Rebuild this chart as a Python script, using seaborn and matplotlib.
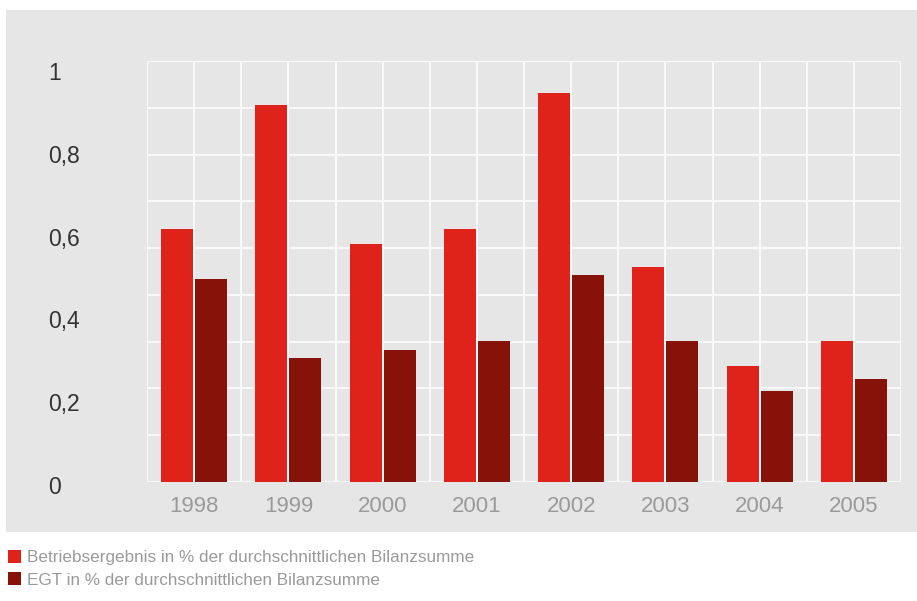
import matplotlib
matplotlib.use("Agg")
import matplotlib.pyplot as plt
import matplotlib.transforms as mtransforms
from matplotlib.patches import Rectangle, Patch
from matplotlib.ticker import FixedLocator
import numpy as np
import pandas as pd
import seaborn as sns

# Data: operating result and EGT as % of average total assets
years = ["1998", "1999", "2000", "2001", "2002", "2003", "2004", "2005"]
betriebsergebnis = [0.61, 0.91, 0.575, 0.61, 0.94, 0.52, 0.28, 0.34]
egt = [0.49, 0.30, 0.32, 0.34, 0.50, 0.34, 0.22, 0.25]
series_names = ["Betriebsergebnis in % der durchschnittlichen Bilanzsumme",
                "EGT in % der durchschnittlichen Bilanzsumme"]
y_ticks = [0, 0.2, 0.4, 0.6, 0.8, 1.0]
y_ticklabels = ["0", "0,2", "0,4", "0,6", "0,8", "1"]

RED = "#E0231A"
DARK = "#87120A"
PANEL = "#E6E6E6"

df = pd.DataFrame({
    "Jahr": years * 2,
    "Serie": [series_names[0]] * len(years) + [series_names[1]] * len(years),
    "Wert": betriebsergebnis + egt,
})

sns.set_theme(style="white")
plt.rcParams["font.family"] = ["Liberation Sans", "DejaVu Sans"]

fig = plt.figure(figsize=(9.17, 6.01), dpi=100)
fig.patch.set_facecolor("white")

# grey panel behind the chart
fig.patches.append(Rectangle((6 / 917, 1 - 532 / 601), 1 - 6 / 917, (532 - 10) / 601,
                             transform=fig.transFigure, facecolor=PANEL,
                             edgecolor="none", zorder=-5))

ax = fig.add_axes([147 / 917, 1 - 482 / 601, (901 - 147) / 917, (482 - 61) / 601])
ax.set_zorder(1)
ax.set_facecolor(PANEL)

sns.barplot(data=df, x="Jahr", y="Wert", hue="Serie", palette=[RED, DARK],
            width=0.72, gap=0.06, ax=ax, legend=False, saturation=1,
            linewidth=0, zorder=3)

ytop = 1.017
ax.set_xlim(-0.5, len(years) - 0.5)
ax.set_ylim(0, ytop)

# white cell grid: 16 columns x 9 rows
ax.xaxis.remove_overlapping_locs = False
ax.yaxis.remove_overlapping_locs = False
ax.xaxis.set_minor_locator(FixedLocator(np.arange(-0.5, len(years), 0.5)))
ax.yaxis.set_minor_locator(FixedLocator(np.linspace(0, ytop, 10)))
ax.grid(which="minor", color="#FAFAFA", linewidth=1.4)
ax.grid(which="major", visible=False)
ax.set_axisbelow(True)
ax.tick_params(which="both", length=0)

for s in ax.spines.values():
    s.set_visible(False)

ax.set_xlabel("")
ax.set_ylabel("")
ax.set_yticks(y_ticks)
ax.set_yticklabels(y_ticklabels, fontsize=16.5, color="#333333")
ax.tick_params(axis="y", which="major", pad=71)
shift = mtransforms.ScaledTranslation(0, -3 / 100, fig.dpi_scale_trans)
for lbl in ax.get_yticklabels():
    lbl.set_horizontalalignment("left")
    lbl.set_transform(lbl.get_transform() + shift)

ax.tick_params(axis="x", which="major", labelsize=16, labelcolor="#9A9A9A", pad=10)

handles = [Patch(facecolor=RED, edgecolor="none"), Patch(facecolor=DARK, edgecolor="none")]
fig.legend(handles, series_names, loc="upper left",
           bbox_to_anchor=(8 / 917, 1 - 550 / 601), bbox_transform=fig.transFigure,
           frameon=False, fontsize=12.3, labelcolor="#9A9A9A",
           handlelength=0.75, handleheight=0.75, handletextpad=0.35,
           labelspacing=0.42, borderpad=0, borderaxespad=0)

fig.savefig("out.png", dpi=100, facecolor="white")
